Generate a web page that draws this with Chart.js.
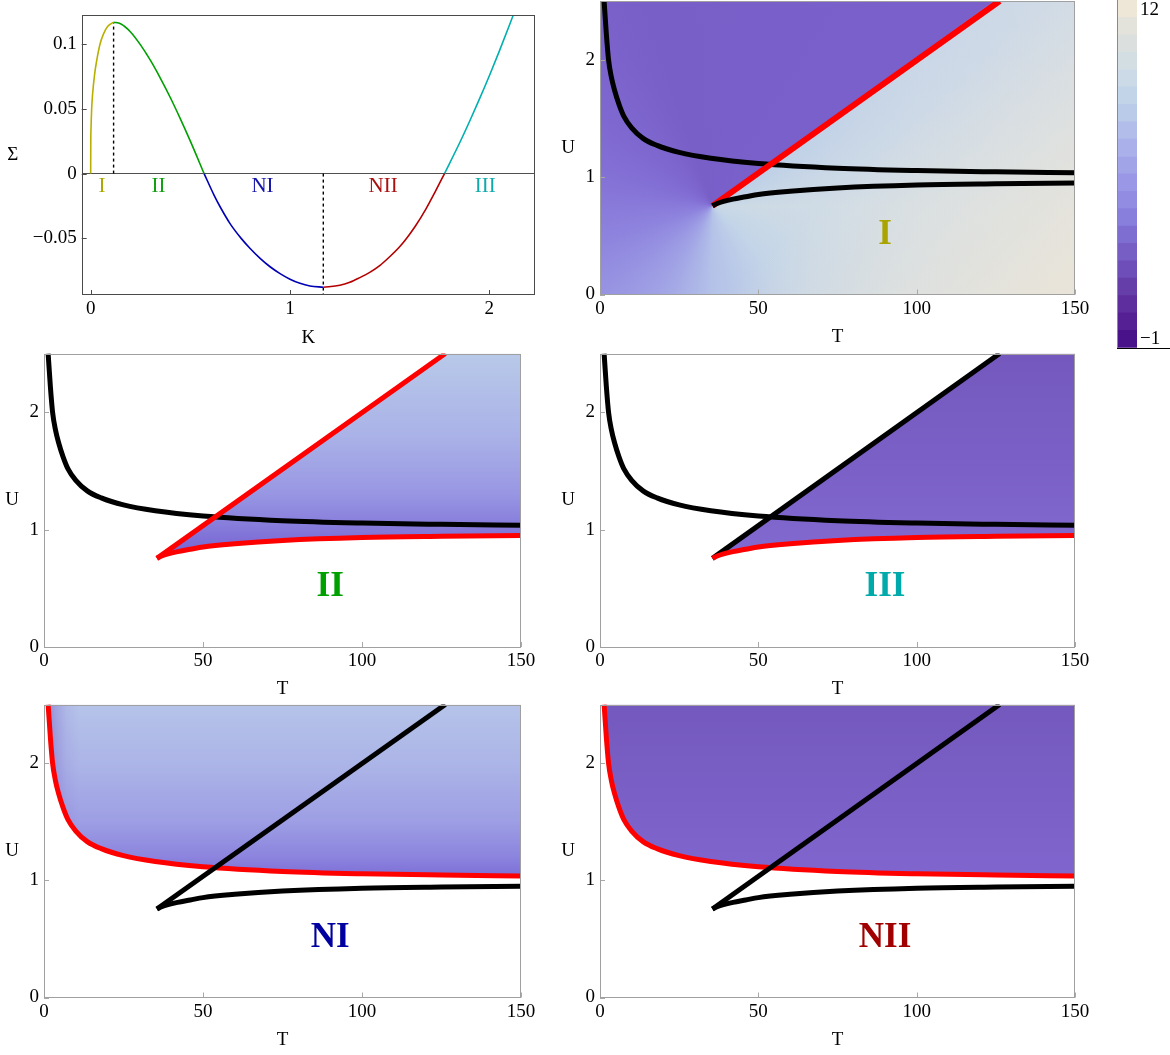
<!DOCTYPE html>
<html>
<head>
<meta charset="utf-8">
<title>Σ(K) and (T, U) phase panels</title>
<script src="https://cdn.jsdelivr.net/npm/chart.js@4.4.1/dist/chart.umd.min.js"></script>
<style>
  html, body { margin: 0; padding: 0; background: #fff; }
  #fig { position: relative; width: 1170px; height: 1055px; overflow: hidden; background: #fff; }
  #fig canvas { position: absolute; }
</style>
</head>
<body>
<div id="fig">
  <canvas id="sigma"    width="560" height="350" style="left:0px;top:0px"></canvas>
  <canvas id="phaseI"   width="545" height="350" style="left:560px;top:0px"></canvas>
  <canvas id="phaseII"  width="560" height="352" style="left:0px;top:350px"></canvas>
  <canvas id="phaseIII" width="545" height="352" style="left:560px;top:350px"></canvas>
  <canvas id="phaseNI"  width="560" height="353" style="left:0px;top:702px"></canvas>
  <canvas id="phaseNII" width="545" height="353" style="left:560px;top:702px"></canvas>
  <canvas id="legendBar" width="65" height="360" style="left:1105px;top:0px"></canvas>
</div>
<script>
// ---------- Σ(K) curve, split into its five branches ----------
const kI   = [0, 0.0005, 0.002, 0.005, 0.01, 0.02, 0.03, 0.047, 0.065, 0.085, 0.115];
const sigI = [0, 0.022, 0.036, 0.05, 0.062, 0.077, 0.087, 0.1, 0.108, 0.1135, 0.1168];
const kII   = [0.115, 0.15, 0.2, 0.25, 0.3, 0.35, 0.4, 0.45, 0.5, 0.569];
const sigII = [0.1168, 0.1156, 0.1093, 0.0993, 0.0873, 0.0735, 0.0585, 0.0422, 0.025, 0];
const kNI   = [0.569, 0.62, 0.65, 0.7, 0.755, 0.8, 0.85, 0.9, 0.95, 1.0, 1.05, 1.1, 1.167];
const sigNI = [0, -0.017, -0.0258, -0.0388, -0.05, -0.0578, -0.0654, -0.0719, -0.0772, -0.0815, -0.0847, -0.0867, -0.0877];
const kNII   = [1.167, 1.25, 1.3, 1.35, 1.4, 1.45, 1.5, 1.55, 1.59, 1.63, 1.68, 1.73, 1.775];
const sigNII = [-0.0877, -0.0862, -0.0839, -0.0803, -0.0762, -0.071, -0.0642, -0.0565, -0.0489, -0.0403, -0.0278, -0.0135, 0];
const kIII   = [1.775, 1.85, 1.9, 1.95, 2.0, 2.05, 2.1, 2.12];
const sigIII = [0, 0.0234, 0.04, 0.0574, 0.0755, 0.0945, 0.1143, 0.1224];

const kPeak = 0.115, sigPeak = 0.1168;     // maximum of Σ
const kTrough = 1.167;                      // minimum of Σ
const kTicks = [0, 1, 2];
const sigTicks = [-0.05, 0, 0.05, 0.1];
const kRange = [-0.045, 2.229];
const sigRange = [-0.0937, 0.1226];
const branchNames = ['I', 'II', 'NI', 'NII', 'III'];
const branchLabelK = [0.057, 0.34, 0.862, 1.467, 1.98];
const branchLabelSig = -0.0103;

// ---------- (T, U) boundary curves ----------
const tA = [1.3, 2, 2.7, 3.6, 4.6, 6, 7.5, 10, 13.6, 18, 25, 35, 50, 75, 100, 125, 150];
const uA = [2.5, 2.22, 2.0, 1.85, 1.74, 1.62, 1.52, 1.42, 1.33, 1.27, 1.21, 1.16, 1.116, 1.076, 1.056, 1.045, 1.037];
const tB = [35.5, 37, 39, 42, 46, 50, 60, 75, 100, 125, 150];
const uB = [0.755, 0.775, 0.793, 0.812, 0.832, 0.852, 0.88, 0.908, 0.933, 0.943, 0.949];
const tC = [35.5, 126.2];
const uC = [0.755, 2.5];
const tTicks = [0, 50, 100, 150];
const uTicks = [0, 1, 2];
const tMin = 0, tMax = 150, uMin = 0, uMax = 2.5;
const phaseLabelT = 90, phaseLabelU = 0.51;

// ---------- colour bar levels ----------
const cbEdges = [-1, -0.35, 0.3, 0.95, 1.6, 2.25, 2.9, 3.55, 4.2, 4.85, 5.5,
                 6.15, 6.8, 7.45, 8.1, 8.75, 9.4, 10.05, 10.7, 11.35, 12];
const cbTicks = [-1, 12];
const cbColors = ['rgb(74,18,138)', 'rgb(84,32,148)', 'rgb(94,46,158)', 'rgb(102,62,170)', 'rgb(110,78,184)',
  'rgb(118,94,196)', 'rgb(127,110,210)', 'rgb(136,126,220)', 'rgb(146,140,226)', 'rgb(154,152,230)',
  'rgb(162,164,232)', 'rgb(170,176,233)', 'rgb(178,190,233)', 'rgb(186,202,233)', 'rgb(194,212,232)',
  'rgb(203,218,230)', 'rgb(211,222,227)', 'rgb(219,224,223)', 'rgb(228,227,219)', 'rgb(238,231,215)'];

// ---------- common settings ----------
const SERIF = '"Liberation Serif", "Times New Roman", serif';
Chart.defaults.font.family = SERIF;
Chart.defaults.font.size = 19;
Chart.defaults.color = '#000';
Chart.defaults.animation = false;
Chart.defaults.plugins.legend.display = false;
Chart.defaults.plugins.tooltip.enabled = false;
Chart.defaults.elements.point.radius = 0;

const pts = (xs, ys) => xs.map((x, i) => ({ x, y: ys[i] }));
const fmt = v => (v < 0 ? '\u2212' + String(-v) : String(v));

// frame around the plot area with short inward ticks
const framePlugin = {
  id: 'frame',
  afterDatasetsDraw(chart, _args, o) {
    const { ctx, chartArea: a, scales: { x, y } } = chart;
    ctx.save();
    ctx.lineWidth = 1;
    ctx.strokeStyle = o.tickColor;
    ctx.beginPath();
    x.ticks.forEach(t => {
      const px = Math.round(x.getPixelForValue(t.value)) + 0.5;
      ctx.moveTo(px, a.bottom); ctx.lineTo(px, a.bottom - o.len);
    });
    y.ticks.forEach(t => {
      const py = Math.round(y.getPixelForValue(t.value)) + 0.5;
      ctx.moveTo(a.left, py); ctx.lineTo(a.left + o.len, py);
    });
    ctx.stroke();
    ctx.strokeStyle = o.color;
    ctx.strokeRect(Math.round(a.left) + 0.5, Math.round(a.top) + 0.5,
                   Math.round(a.right - a.left) - 1, Math.round(a.bottom - a.top) - 1);
    ctx.restore();
  }
};

// upright axis titles and in-plot region names
const notesPlugin = {
  id: 'notes',
  afterDraw(chart, _args, o) {
    const { ctx, chartArea: a, scales: { x, y } } = chart;
    ctx.save();
    ctx.textAlign = 'center';
    ctx.textBaseline = 'middle';
    ctx.fillStyle = '#000';
    ctx.font = '19px ' + SERIF;
    ctx.fillText(o.xTitle, (a.left + a.right) / 2, a.bottom + o.xGap);
    ctx.fillText(o.yTitle, a.left - o.yGap, (a.top + a.bottom) / 2);
    (o.marks || []).forEach(m => {
      ctx.font = m.font;
      ctx.fillStyle = m.color;
      ctx.fillText(m.text, x.getPixelForValue(m.x), y.getPixelForValue(m.y));
    });
    ctx.restore();
  }
};

// angular shading around the apex where the two lower boundaries meet
const fieldPlugin = {
  id: 'field',
  beforeDatasetsDraw(chart, _args, o) {
    if (!o || !o.apex) return;
    const { ctx, chartArea: a, scales: { x, y } } = chart;
    const cx = x.getPixelForValue(o.apex[0]), cy = y.getPixelForValue(o.apex[1]);
    const ang = Math.atan2(y.getPixelForValue(o.toward[1]) - cy, x.getPixelForValue(o.toward[0]) - cx);
    const edge = (ang + 2 * Math.PI) / (2 * Math.PI);
    const g = ctx.createConicGradient(0, cx, cy);
    o.ring.forEach(s => g.addColorStop(s[0], s[1]));
    g.addColorStop(edge - 0.002, o.inside);
    g.addColorStop(edge + 0.002, o.outside);
    g.addColorStop(1, o.ring[0][1]);
    ctx.save();
    ctx.fillStyle = g;
    ctx.fillRect(a.left, a.top, a.right - a.left, a.bottom - a.top);
    ctx.restore();
  }
};

// gradients placed through the chart scales
function vGrad(stops) {
  return ctx => {
    const ch = ctx.chart;
    if (!ch.chartArea) return 'rgba(0,0,0,0)';
    const s = ch.scales.y;
    const p0 = s.getPixelForValue(stops[0][0]), p1 = s.getPixelForValue(stops[stops.length - 1][0]);
    const g = ch.ctx.createLinearGradient(0, p0, 0, p1);
    stops.forEach(([v, c]) => g.addColorStop((s.getPixelForValue(v) - p0) / (p1 - p0), c));
    return g;
  };
}
function hGrad(stops) {
  return ctx => {
    const ch = ctx.chart;
    if (!ch.chartArea) return 'rgba(0,0,0,0)';
    const s = ch.scales.x;
    const p0 = s.getPixelForValue(stops[0][0]), p1 = s.getPixelForValue(stops[stops.length - 1][0]);
    const g = ch.ctx.createLinearGradient(p0, 0, p1, 0);
    stops.forEach(([v, c]) => g.addColorStop((s.getPixelForValue(v) - p0) / (p1 - p0), c));
    return g;
  };
}
function dGrad(from, to, stops) {
  return ctx => {
    const ch = ctx.chart;
    if (!ch.chartArea) return 'rgba(0,0,0,0)';
    const { x, y } = ch.scales;
    const g = ch.ctx.createLinearGradient(x.getPixelForValue(from[0]), y.getPixelForValue(from[1]),
                                          x.getPixelForValue(to[0]), y.getPixelForValue(to[1]));
    stops.forEach(([f, c]) => g.addColorStop(f, c));
    return g;
  };
}

function axisX(min, max, ticks, height) {
  return {
    type: 'linear', min, max,
    afterBuildTicks: s => { s.ticks = ticks.map(v => ({ value: v })); },
    grid: { display: false, drawTicks: false },
    border: { display: false },
    ticks: { padding: 3, autoSkip: false, maxRotation: 0, callback: v => fmt(v) },
    afterFit: s => { s.height = height; s.paddingLeft = 0; s.paddingRight = 0; }
  };
}
function axisY(min, max, ticks, width, grid) {
  return {
    type: 'linear', min, max,
    afterBuildTicks: s => { s.ticks = ticks.map(v => ({ value: v })); },
    grid: grid || { display: false, drawTicks: false },
    border: { display: false },
    ticks: { padding: 5, autoSkip: false, callback: v => fmt(v) },
    afterFit: s => { s.width = width; s.paddingTop = 0; s.paddingBottom = 0; }
  };
}

// ---------- Σ(K) ----------
(function () {
  const box = { w: 560, h: 350 }, area = { l: 81.7, t: 14.7, r: 535, b: 295 };
  const branches = [
    [kI, sigI, '#b8b000'], [kII, sigII, '#00a000'], [kNI, sigNI, '#0000b4'],
    [kNII, sigNII, '#b40000'], [kIII, sigIII, '#00b0b0']
  ];
  const labelColors = ['#aca600', '#10a010', '#1414a8', '#aa1010', '#10aaaa'];
  const datasets = branches.map(([k, s, c]) => ({
    data: pts(k, s), borderColor: c, borderWidth: 1.6,
    cubicInterpolationMode: 'monotone', fill: false, clip: 0
  }));
  datasets.push(
    { data: [{ x: kPeak, y: 0 }, { x: kPeak, y: sigPeak }], borderColor: '#000', borderWidth: 1.4, borderDash: [3, 3], fill: false, clip: 0 },
    { data: [{ x: kTrough, y: 0 }, { x: kTrough, y: sigRange[0] }], borderColor: '#000', borderWidth: 1.4, borderDash: [3, 3], fill: false, clip: 0 }
  );
  new Chart(document.getElementById('sigma'), {
    type: 'line',
    data: { datasets },
    options: {
      responsive: false,
      layout: { padding: { left: 0, top: area.t, right: box.w - area.r, bottom: 0 } },
      scales: {
        x: axisX(kRange[0], kRange[1], kTicks, box.h - area.b),
        y: axisY(sigRange[0], sigRange[1], sigTicks, area.l, {
          drawTicks: false, lineWidth: 1,
          color: c => (c.tick && c.tick.value === 0 ? '#505050' : 'rgba(0,0,0,0)')
        })
      },
      plugins: {
        frame: { color: '#4a4a4a', tickColor: '#4a4a4a', len: 5 },
        notes: {
          xTitle: 'K', yTitle: '\u03A3', xGap: 43, yGap: 69,
          marks: branchNames.map((n, i) => ({
            text: n, x: branchLabelK[i], y: branchLabelSig, color: labelColors[i], font: '21px ' + SERIF
          }))
        }
      }
    },
    plugins: [framePlugin, notesPlugin]
  });
})();

// ---------- (T, U) panels ----------
function phasePanel(id, box, area, spec) {
  const A = pts(tA, uA), B = pts(tB, uB), C = pts(tC, uC);
  const W = C.concat([{ x: tMax, y: uMax }]);
  const fills = spec.fills || [];
  const bIndex = fills.length + 2;
  const datasets = fills.map((f, i) => ({
    data: f.src === 'A' ? A : W,
    borderWidth: 0,
    cubicInterpolationMode: f.src === 'A' ? 'monotone' : 'default',
    fill: f.fill === 'B' ? bIndex : f.fill,
    backgroundColor: f.bg,
    order: 20 - i,
    clip: 0
  }));
  datasets.push(
    { data: A, borderColor: spec.lineA, borderWidth: 5, cubicInterpolationMode: 'monotone', fill: false, order: 3, clip: 0 },
    { data: C, borderColor: spec.lineC, borderWidth: spec.widthC || 5, fill: false, order: 2, clip: 0 },
    { data: B, borderColor: spec.lineB, borderWidth: 5, cubicInterpolationMode: 'monotone', fill: false, order: 1, clip: 0 }
  );
  new Chart(document.getElementById(id), {
    type: 'line',
    data: { datasets },
    options: {
      responsive: false,
      layout: { padding: { left: 0, top: area.t, right: box.w - area.r, bottom: 0 } },
      elements: { line: { borderCapStyle: 'butt', borderJoinStyle: 'round' } },
      scales: {
        x: axisX(tMin, tMax, tTicks, box.h - area.b),
        y: axisY(uMin, uMax, uTicks, area.l)
      },
      plugins: {
        frame: { color: '#a0a0a0', tickColor: '#a8a8a8', len: 5 },
        notes: {
          xTitle: 'T', yTitle: 'U', xGap: 42.5, yGap: 32,
          marks: [{ text: spec.name, x: phaseLabelT, y: phaseLabelU, color: spec.nameColor, font: 'bold 35px ' + SERIF }]
        },
        field: spec.field || {}
      }
    },
    plugins: [fieldPlugin, framePlugin, notesPlugin]
  });
}

const RED = '#ff0000', BLACK = '#000000';

phasePanel('phaseI', { w: 545, h: 350 }, { l: 40, t: 1, r: 515, b: 294.5 }, {
  name: 'I', nameColor: '#aaa400',
  lineA: BLACK, lineC: RED, lineB: BLACK, widthC: 6,
  field: {
    apex: [tC[0], uC[0]], toward: [tC[1], uC[1]],
    ring: [[0, 'rgb(204,218,229)'], [0.125, 'rgb(194,212,232)'], [0.25, 'rgb(180,194,232)'],
           [0.34, 'rgb(160,162,229)'], [0.45, 'rgb(142,132,222)'], [0.56, 'rgb(130,110,212)'],
           [0.7, 'rgb(120,94,199)']],
    inside: 'rgb(122,96,202)', outside: 'rgb(186,205,232)'
  },
  fills: [
    { src: 'W', fill: 'start', bg: hGrad([[42, 'rgba(222,227,229,0)'], [100, 'rgba(222,227,229,0.45)'], [150, 'rgba(222,227,229,0.6)']]) },
    { src: 'W', fill: 'start', bg: dGrad([100, 1.5], [150, 0], [[0, 'rgba(240,230,212,0)'], [1, 'rgba(240,230,212,0.75)']]) }
  ]
});

phasePanel('phaseII', { w: 560, h: 352 }, { l: 44, t: 3.5, r: 521, b: 297 }, {
  name: 'II', nameColor: '#00a000',
  lineA: BLACK, lineC: RED, lineB: RED,
  fills: [{ src: 'W', fill: 'B', bg: vGrad([[2.5, 'rgb(184,201,233)'], [1.8, 'rgb(170,178,231)'], [1.3, 'rgb(152,150,227)'], [1.05, 'rgb(136,126,220)'], [0.8, 'rgb(118,100,210)']]) }]
});

phasePanel('phaseIII', { w: 545, h: 352 }, { l: 40, t: 3.5, r: 515, b: 297 }, {
  name: 'III', nameColor: '#00aaaa',
  lineA: BLACK, lineC: BLACK, lineB: RED,
  fills: [{ src: 'W', fill: 'B', bg: vGrad([[2.5, 'rgb(116,88,190)'], [1.5, 'rgb(123,97,199)'], [0.8, 'rgb(129,105,207)']]) }]
});

phasePanel('phaseNI', { w: 560, h: 353 }, { l: 44, t: 2.5, r: 521, b: 295.5 }, {
  name: 'NI', nameColor: '#0000a0',
  lineA: RED, lineC: BLACK, lineB: BLACK,
  fills: [
    { src: 'A', fill: 'end', bg: vGrad([[2.5, 'rgb(181,195,233)'], [2.0, 'rgb(172,181,231)'], [1.5, 'rgb(157,158,228)'], [1.2, 'rgb(140,132,222)'], [1.0, 'rgb(122,106,213)']]) },
    { src: 'A', fill: 'end', bg: hGrad([[1, 'rgba(120,96,204,0.55)'], [4, 'rgba(120,96,204,0.3)'], [7, 'rgba(120,96,204,0.1)'], [11, 'rgba(120,96,204,0)']]) }
  ]
});

phasePanel('phaseNII', { w: 545, h: 353 }, { l: 40, t: 2.5, r: 515, b: 295.5 }, {
  name: 'NII', nameColor: '#a00000',
  lineA: RED, lineC: BLACK, lineB: BLACK,
  fills: [{ src: 'A', fill: 'end', bg: vGrad([[2.5, 'rgb(116,88,190)'], [1.6, 'rgb(123,97,199)'], [1.0, 'rgb(127,101,205)']]) }]
});

// ---------- colour bar ----------
// frame of the bar plus its end labels, which sit inside the bar's height
const barFramePlugin = {
  id: 'barFrame',
  afterDraw(chart) {
    const { ctx, chartArea: a, scales: { y } } = chart;
    ctx.save();
    ctx.lineWidth = 1;
    ctx.strokeStyle = '#8a8a8a';
    ctx.beginPath();
    ctx.moveTo(Math.round(a.left) + 0.5, 0);
    ctx.lineTo(Math.round(a.left) + 0.5, Math.round(a.bottom));
    ctx.stroke();
    ctx.strokeStyle = '#000';
    ctx.beginPath();
    ctx.moveTo(Math.round(a.left), Math.round(a.bottom) + 0.5);
    ctx.lineTo(chart.width, Math.round(a.bottom) + 0.5);
    ctx.stroke();
    ctx.fillStyle = '#000';
    ctx.font = '19px ' + SERIF;
    ctx.textAlign = 'left';
    cbTicks.forEach(v => {
      const py = y.getPixelForValue(v);
      const top = Math.abs(py - a.top) < Math.abs(py - a.bottom);
      ctx.textBaseline = top ? 'top' : 'bottom';
      ctx.fillText(fmt(v), a.right + 3, py + 1);
    });
    ctx.restore();
  }
};
new Chart(document.getElementById('legendBar'), {
  type: 'bar',
  data: {
    labels: [''],
    datasets: cbColors.map((c, i) => ({
      data: [[cbEdges[i], cbEdges[i + 1]]],
      backgroundColor: c, borderWidth: 0,
      barPercentage: 1, categoryPercentage: 1, grouped: false
    }))
  },
  options: {
    responsive: false,
    layout: { padding: { left: 12, right: 33, top: 0, bottom: 12.3 } },
    scales: {
      x: { display: false },
      y: { display: false, min: cbEdges[0], max: cbEdges[cbEdges.length - 1] }
    }
  },
  plugins: [barFramePlugin]
});
</script>
</body>
</html>
